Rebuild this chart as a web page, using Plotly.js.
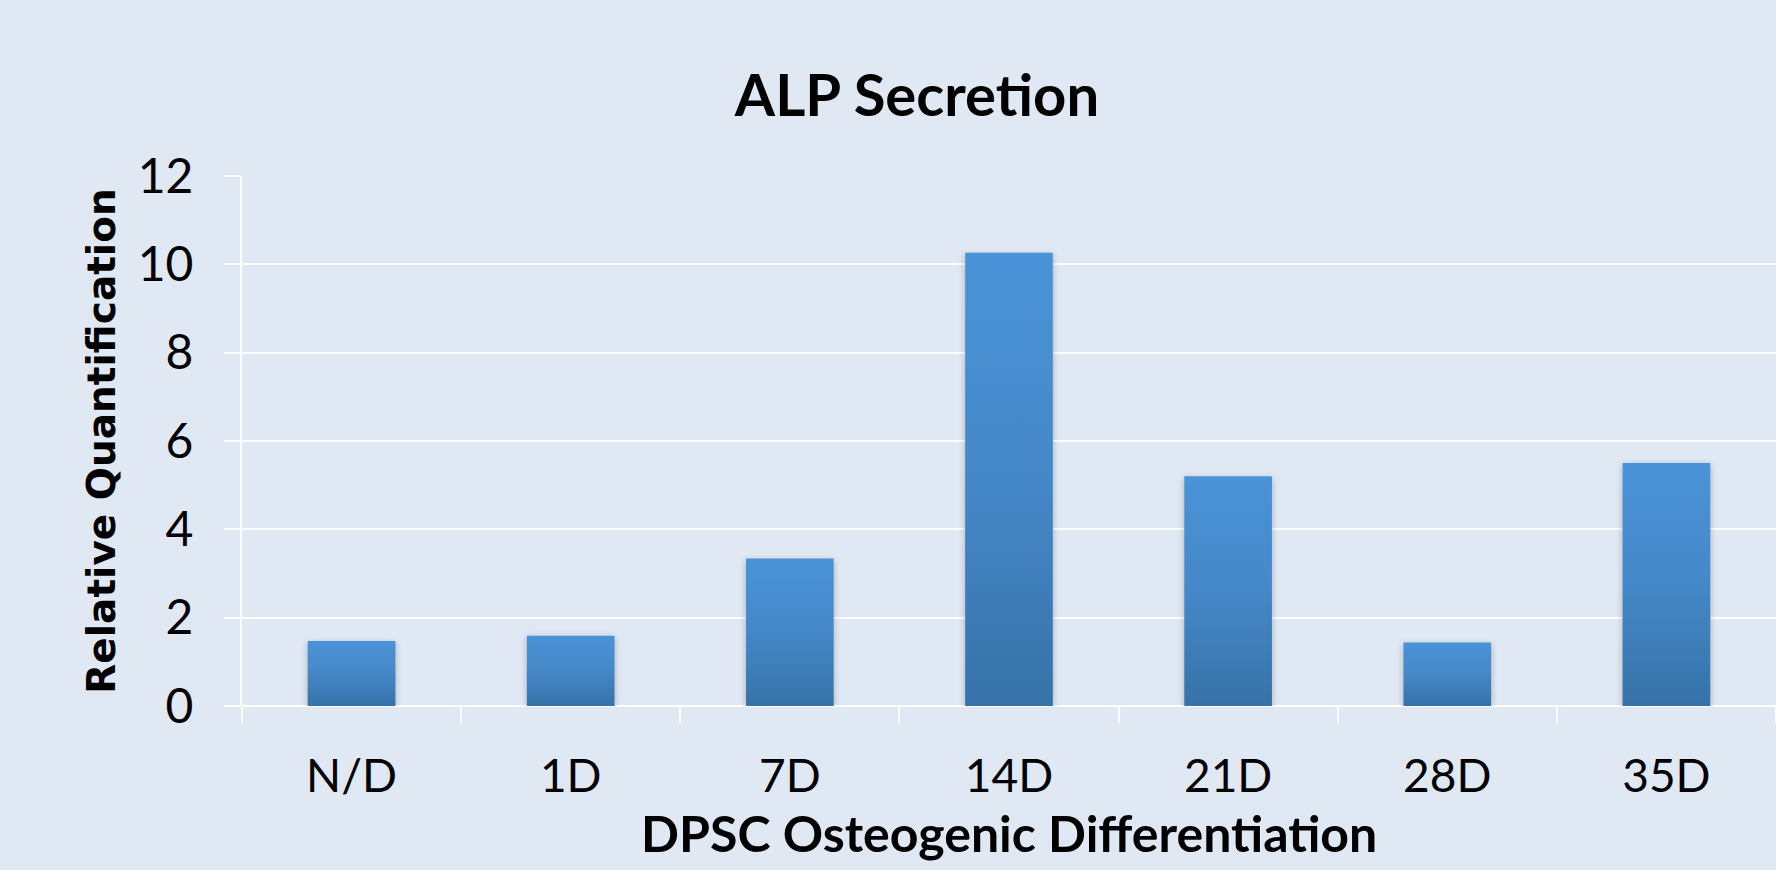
<!DOCTYPE html>
<html>
<head>
<meta charset="utf-8">
<script src="https://cdn.plot.ly/plotly-3.0.1.min.js"></script>
<style>
  html, body { margin: 0; padding: 0; background: #dfe8f3; }
  #chart { width: 1776px; height: 870px; }
</style>
</head>
<body>
<div id="chart"></div>
<script>
const categories = ["N/D", "1D", "7D", "14D", "21D", "28D", "35D"];
const values = [1.47, 1.59, 3.34, 10.26, 5.20, 1.44, 5.50];
const yTickValues = [0, 2, 4, 6, 8, 10, 12];

const bg = "#dfe8f3";
const gridCol = "rgba(255,255,255,0.9)";

const trace = {
  type: "bar",
  x: categories,
  y: values,
  width: 0.4,
  marker: { color: "#4283c2", line: { width: 0 } },
  hoverinfo: "x+y"
};

const layout = {
  width: 1776,
  height: 870,
  paper_bgcolor: bg,
  plot_bgcolor: bg,
  margin: { l: 242, r: 0, t: 176, b: 164, pad: 0 },
  showlegend: false,
  title: {
    text: "<b>ALP Secretion</b>",
    font: { family: "Lato, 'Open Sans', sans-serif", size: 58, color: "#000" },
    xref: "container", yref: "container",
    x: 917 / 1776, xanchor: "center",
    y: 1 - 96 / 870, yanchor: "middle"
  },
  annotations: [{
    text: "<b>DPSC Osteogenic Differentiation</b>",
    font: { family: "Lato, 'Open Sans', sans-serif", size: 50, color: "#000" },
    xref: "paper", yref: "paper",
    x: 0.5, xanchor: "center",
    y: -0.182, yanchor: "top",
    borderpad: 0,
    showarrow: false
  }],
  xaxis: {
    type: "category",
    tickson: "boundaries",
    ticks: "outside",
    ticklen: 16,
    tickwidth: 2,
    tickcolor: gridCol,
    showgrid: false,
    showline: false,
    zeroline: false,
    ticklabelstandoff: 39,
    tickfont: { family: "Lato, 'Open Sans', sans-serif", size: 46, color: "#000" }
  },
  yaxis: {
    range: [0, 12],
    tickvals: yTickValues,
    ticktext: yTickValues.map(String),
    ticks: "outside",
    ticklen: 16,
    tickwidth: 2,
    tickcolor: gridCol,
    showgrid: true,
    gridcolor: gridCol,
    gridwidth: 2,
    zeroline: true,
    zerolinecolor: gridCol,
    zerolinewidth: 2,
    showline: true,
    linecolor: gridCol,
    linewidth: 2,
    ticklabelstandoff: 21,
    tickfont: { family: "Lato, 'Open Sans', sans-serif", size: 48, color: "#000" },
    title: {
      text: "<b>Relative Quantification</b>",
      font: { family: "'DejaVu Sans', Verdana, sans-serif", size: 39, color: "#000" },
      standoff: 10
    }
  }
};

Plotly.newPlot("chart", [trace], layout, { staticPlot: true, displayModeBar: false }).then(function (gd) {
  const svg = gd.querySelector("svg.main-svg");
  const ns = "http://www.w3.org/2000/svg";
  let defs = svg.querySelector("defs");
  if (!defs) { defs = document.createElementNS(ns, "defs"); svg.insertBefore(defs, svg.firstChild); }
  const grad = document.createElementNS(ns, "linearGradient");
  grad.setAttribute("id", "barGrad");
  grad.setAttribute("x1", "0"); grad.setAttribute("y1", "0");
  grad.setAttribute("x2", "0"); grad.setAttribute("y2", "1");
  [["0", "#4a93d8"], ["0.5", "#4588c8"], ["1", "#3672a8"]].forEach(function (s) {
    const st = document.createElementNS(ns, "stop");
    st.setAttribute("offset", s[0]);
    st.setAttribute("stop-color", s[1]);
    grad.appendChild(st);
  });
  defs.appendChild(grad);
  gd.querySelectorAll(".barlayer .point path").forEach(function (p) {
    p.style.fill = "url(#barGrad)";
    p.style.filter = "drop-shadow(0px 2px 3px rgba(0,0,0,0.25))";
  });
});
</script>
</body>
</html>
